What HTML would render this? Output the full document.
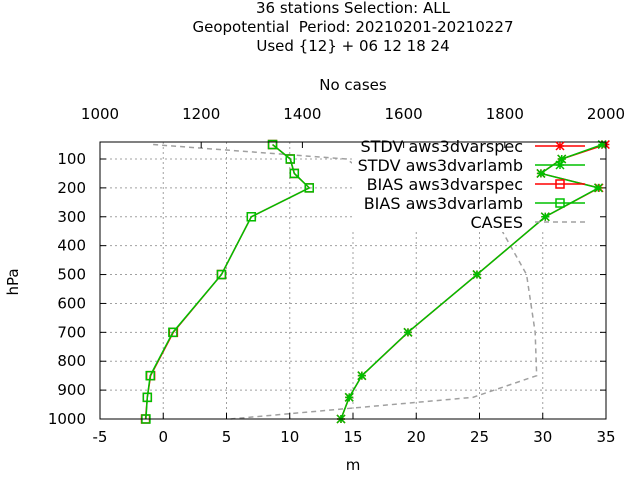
<!DOCTYPE html>
<html><head><meta charset="utf-8"><style>
body{margin:0;background:#fff;}
svg{display:block;font-family:"DejaVu Sans","Liberation Sans",sans-serif;font-size:15px;}
</style></head><body>
<svg id="chart" width="640" height="480">
<text x="353" y="13" text-anchor="middle">36 stations Selection: ALL</text>
<text x="353" y="32" text-anchor="middle" xml:space="preserve">Geopotential  Period: 20210201-20210227</text>
<text x="353" y="51" text-anchor="middle">Used {12} + 06 12 18 24</text>
<text x="353" y="90" text-anchor="middle">No cases</text>
<text x="353" y="470" text-anchor="middle">m</text>
<text transform="translate(18,282) rotate(-90)" text-anchor="middle">hPa</text>
<g id="grid"></g>
<g id="cases"></g>
<rect x="352" y="137" width="254" height="95" fill="#fff"/>
<g id="ticks"></g>
<g id="series"></g>
<rect x="100" y="142" width="506" height="277" fill="none" stroke="#000" stroke-width="1"/>
<g id="legend" style="font-size:16px"></g>
</svg>
<script>
const levels=[50,100,150,200,300,500,700,850,925,1000];
const stdvSpec=[34.95,31.5,29.85,34.45,30.2,24.8,19.35,15.7,14.7,14.05];
const stdvLamb=[34.7,31.5,29.86,34.4,30.2,24.8,19.34,15.7,14.7,14.05];
const biasSpec=[8.64,10.04,10.36,11.54,6.96,4.6,0.8,-1.0,-1.26,-1.4];
const biasLamb=[8.64,10.04,10.36,11.54,6.96,4.6,0.76,-1.03,-1.26,-1.37];
const cases=[1105,1487,1527,1573,1779,1843,1860,1863,1737,1257];
const xTicks=[-5,0,5,10,15,20,25,30,35];
const topTicks=[1000,1200,1400,1600,1800,2000];
const yTicks=[100,200,300,400,500,600,700,800,900,1000];
const NS="http://www.w3.org/2000/svg";
const X=v=>100+(v+5)*506/40;
const XT=c=>100+(c-1000)*506/1000;
const Y=p=>419-(1000-p)*0.2889;
function mk(tag,attrs,parent){const e=document.createElementNS(NS,tag);for(const k in attrs)e.setAttribute(k,attrs[k]);parent.appendChild(e);return e;}
const grid=document.getElementById('grid'),ticks=document.getElementById('ticks'),ser=document.getElementById('series'),leg=document.getElementById('legend'),cg=document.getElementById('cases');
xTicks.forEach(v=>{const x=X(v);
 if(v>-5&&v<35){const l=mk('line',{x1:x,x2:x,y1:142,y2:419,stroke:'#a0a0a0','stroke-dasharray':'2,3'},grid);}
 const t=mk('line',{x1:x,x2:x,y1:419,y2:413,stroke:'#000'},ticks);
 const tx=mk('text',{x:x,y:442,'text-anchor':'middle'},ticks);tx.textContent=v;});
topTicks.forEach(v=>{const x=XT(v);
 const t=mk('line',{x1:x,x2:x,y1:142,y2:148,stroke:'#000'},ticks);
 const tx=mk('text',{x:x,y:119,'text-anchor':'middle'},ticks);tx.textContent=v;});
yTicks.forEach(v=>{const y=Y(v);
 if(v<1000){const l=mk('line',{x1:100,x2:606,y1:y,y2:y,stroke:'#a0a0a0','stroke-dasharray':'2,3'},grid);}
 const t=mk('line',{x1:100,x2:106,y1:y,y2:y,stroke:'#000'},ticks);
 const t2=mk('line',{x1:600,x2:606,y1:y,y2:y,stroke:'#000'},ticks);
 const tx=mk('text',{x:86,y:y+5,'text-anchor':'end'},ticks);tx.textContent=v;});
function star(g,x,y,c){mk('path',{d:`M${x-4} ${y-4}L${x+4} ${y+4}M${x-4} ${y+4}L${x+4} ${y-4}M${x-4} ${y}L${x+4} ${y}M${x} ${y-4}L${x} ${y+4}`,stroke:c,'stroke-width':1.5},g);}
function box(g,x,y,c){mk('rect',{x:x-4,y:y-4,width:8,height:8,fill:'none',stroke:c,'stroke-width':1.5},g);}
const cp=mk('polyline',{points:levels.map((p,i)=>XT(cases[i])+','+Y(p)).join(' '),fill:'none',stroke:'#a0a0a0','stroke-width':1.5,'stroke-dasharray':'5,4'},cg);


function series(vals,color,marker,name){const g=mk('g',{},ser);
 
 
 mk('polyline',{points:levels.map((p,i)=>X(vals[i])+','+Y(p)).join(' '),fill:'none',stroke:color,'stroke-width':1.5},g);
 levels.forEach((p,i)=>marker(g,X(vals[i]),Y(p),color));}
series(stdvSpec,'#ff0000',star,'stdv-aws3dvarspec-series');
series(biasSpec,'#ff0000',box,'bias-aws3dvarspec-series');
series(stdvLamb,'#00c000',star,'stdv-aws3dvarlamb-series');
series(biasLamb,'#00c000',box,'bias-aws3dvarlamb-series');
const entries=[['STDV aws3dvarspec','#ff0000',star],['STDV aws3dvarlamb','#00c000',star],['BIAS aws3dvarspec','#ff0000',box],['BIAS aws3dvarlamb','#00c000',box],['CASES','#a0a0a0',null]];
entries.forEach((e,i)=>{const y=146+i*19;const g=mk('g',{},leg);
 
 
 const t=mk('text',{x:523,y:y+6,'text-anchor':'end'},g);t.textContent=e[0];
 if(e[2]){mk('line',{x1:535,x2:585,y1:y,y2:y,stroke:e[1],'stroke-width':1.5},g);e[2](g,560,y,e[1]);}
 else mk('line',{x1:535,x2:585,y1:y,y2:y,stroke:e[1],'stroke-width':1.5,'stroke-dasharray':'5,4'},g);});
</script>
</body></html>
